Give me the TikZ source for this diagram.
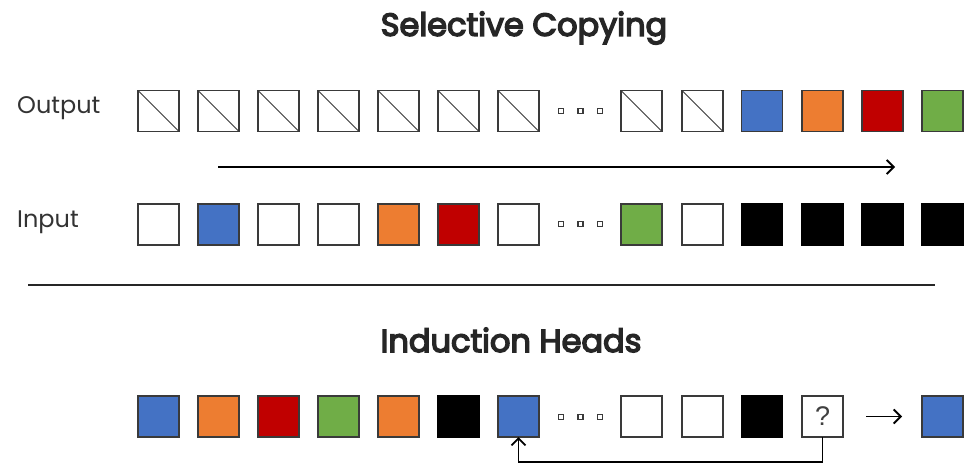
\documentclass[tikz,border=0pt]{standalone}
\usepackage{fontspec}
\setmainfont{Poppins}
\newfontfamily\ttlfont{Poppins}[FakeBold=4.5]
\newfontfamily\qfont{Liberation Sans}
\usetikzlibrary{arrows.meta}
\definecolor{cblue}{HTML}{4472C4}
\definecolor{corange}{HTML}{ED7D31}
\definecolor{cred}{HTML}{C00000}
\definecolor{cgreen}{HTML}{70AD47}
\definecolor{edge}{HTML}{3A3A3A}
\tikzset{
  sq/.style={draw=edge, line width=1.3pt, minimum size=41pt, inner sep=0pt, outer sep=0pt, fill=white},
  blk/.style={sq, fill=black, draw=black},
  blu/.style={sq, fill=cblue},
  ora/.style={sq, fill=corange},
  rd/.style={sq, fill=cred},
  grn/.style={sq, fill=cgreen},
  crossed/.style={sq, path picture={\draw[edge, line width=0.9pt] (path picture bounding box.north west) -- (path picture bounding box.south east);}},
  dotbox/.style={draw=edge, line width=1.2pt, minimum size=5pt, inner sep=0pt, fill=white},
  lbl/.style={font=\fontsize{24}{28}\selectfont, text=black!80, anchor=west, inner sep=0pt},
  ttl/.style={font=\fontsize{32}{36}\selectfont\ttlfont, text=black!85, inner sep=0pt},
  arr/.style={line width=1.7pt, -{Straight Barb[length=7pt, width=14pt, line width=1.8pt]}},
}
\begin{document}
\begin{tikzpicture}[x=1pt, y=-1pt]
\useasboundingbox (0,0) rectangle (964,464);
% titles
\node[ttl] (t1) at (524,28) {Selective Copying};
\node[ttl] (t2) at (511,340) {Induction Heads};
% labels
\node[lbl] (lout) at (17,108) {Output};
\node[lbl] (lin) at (17,222) {Input};
% output row
\foreach \i/\x/\s in {1/158.5/crossed,2/218.5/crossed,3/278.5/crossed,4/338.5/crossed,5/398.5/crossed,6/458.5/crossed,7/518.5/crossed,8/641.5/crossed,9/702.5/crossed,10/762/blu,11/822.5/ora,12/882.5/rd,13/942.5/grn}
  \node[\s] (o\i) at (\x,111) {};
% input row
\foreach \i/\x/\s in {1/158.5/sq,2/218.5/blu,3/278.5/sq,4/338.5/sq,5/398.5/ora,6/458.5/rd,7/518.5/sq,8/641.5/grn,9/702.5/sq,10/762/blk,11/822.5/blk,12/882.5/blk,13/942.5/blk}
  \node[\s] (n\i) at (\x,224.5) {};
% induction row
\foreach \i/\x/\s in {1/158.5/blu,2/218.5/ora,3/278.5/rd,4/338.5/grn,5/398.5/ora,6/458.5/blk,7/518.5/blu,8/641.5/sq,9/702.5/sq,10/762/blk,13/942.5/blu}
  \node[\s] (h\i) at (\x,416.5) {};
\node[sq, font=\fontsize{27}{30}\selectfont\qfont, text=black!75] (h11) at (822.5,416.5) {?};
% dots
\foreach \r/\y in {o/111,n/224,h/417}{
  \node[dotbox] (\r d1) at (561,\y) {};
  \node[dotbox] (\r d2) at (580.5,\y) {};
  \node[dotbox] (\r d3) at (600,\y) {};
}
% time arrow
\coordinate (as) at (218,167);
\coordinate (ae) at (895,167);
\draw[arr] (as) -- (ae);
% separator
\coordinate (s1) at (28,285);
\coordinate (s2) at (935,285);
\draw[line width=1.6pt, black!85] (s1) -- (s2);
% induction arrow to answer
\coordinate (qa) at (866,416.5);
\coordinate (qb) at (902,416.5);
\draw[arr] (qa) -- (qb);
% lookup connector
\draw[arr] (h11.south) -- ++(0,25) -| (h7.south);
\end{tikzpicture}
\end{document}
